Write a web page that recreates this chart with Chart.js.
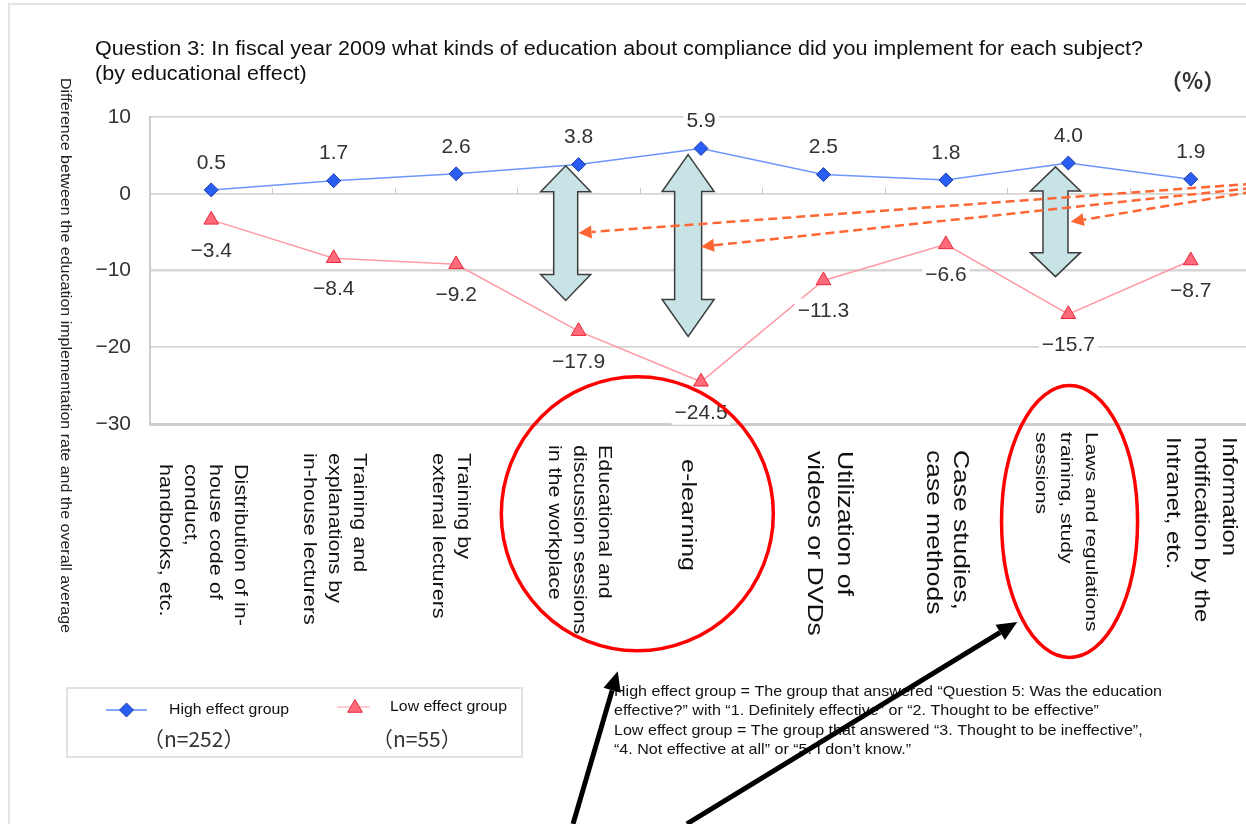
<!DOCTYPE html>
<html><head><meta charset="utf-8">
<script src="https://cdn.jsdelivr.net/npm/chart.js@4.4.1/dist/chart.umd.min.js"></script>
<style>
html,body{margin:0;padding:0;background:#fff;overflow:hidden;width:1246px;height:824px;}
#wrap{position:absolute;left:0;top:0;width:1262px;height:824px;}
</style></head><body>
<div id="wrap"><canvas id="c" width="1262" height="824"></canvas></div>
<script>
// ---------- data ----------
const CATEGORIES = [
  ["Distribution of in-","house code of","conduct,","handbooks, etc."],
  ["Training and","explanations by","in-house lecturers"],
  ["Training by","external lecturers"],
  ["Educational and","discussion sessions","in the workplace"],
  ["e-learning"],
  ["Utilization of","videos or DVDs"],
  ["Case studies,","case methods"],
  ["Laws and regulations","training, study","sessions"],
  ["Information","notification by the","Intranet, etc."]
];
const HIGH_EFFECT = [0.5, 1.7, 2.6, 3.8, 5.9, 2.5, 1.8, 4.0, 1.9];
const LOW_EFFECT  = [-3.4, -8.4, -9.2, -17.9, -24.5, -11.3, -6.6, -15.7, -8.7];
const Y_MIN = -30, Y_MAX = 10, Y_STEP = 10;
const SERIES_NAMES = ["High effect group", "Low effect group"];
const SAMPLE_SIZES = ["（n=252）", "（n=55）"];
const TITLE_LINES = ["Question 3: In fiscal year 2009 what kinds of education about compliance did you implement for each subject?", "(by educational effect)"];
const UNIT_LABEL = "（%）";
const Y_TITLE = "Difference between the education implementation rate and the overall average";
const NOTE_LINES = [
  "High effect group = The group that answered \u201cQuestion 5: Was the education",
  "effective?\u201d with \u201c1. Definitely effective\u201d or \u201c2. Thought to be effective\u201d",
  "Low effect group = The group that answered \u201c3. Thought to be ineffective\u201d,",
  "\u201c4. Not effective at all\u201d or \u201c5. I don\u2019t know.\u201d"
];

// ---------- annotations (in data units: x = category index, y = value) ----------
const GAP_ARROWS = [
  {x: 2.895, top: 3.65, bottom: -13.9},
  {x: 3.895, top: 5.1,  bottom: -18.6},
  {x: 6.895, top: 3.5,  bottom: -10.8}
];
const POINTER_ARROWS = [
  {from: {x: 8.5, y: 1.3},  to: {x: 3.0,  y: -5.1}},
  {from: {x: 8.5, y: 0.75}, to: {x: 4.0,  y: -6.9}},
  {from: {x: 8.5, y: 0.25}, to: {x: 7.02, y: -3.65}}
];
const HIGHLIGHT_ELLIPSES = [
  {x: 3.48, y: -41.7},
  {x: 7.01, y: -42.7}
];
const CALLOUT_ARROWS = [
  {from: {x: 2.955, y: -82.1}, to: {x: 3.32,  y: -62.2}},
  {from: {x: 3.885, y: -82.1}, to: {x: 6.583, y: -55.8}}
];

// ---------- styles ----------
const FONT = '"Liberation Sans", Arial, sans-serif';
const CJK = '"Noto Sans CJK JP", "Liberation Sans", sans-serif';
const GAP_ARROW_STYLE = [
  {headW: 50, headH: 26, shaftW: 24},
  {headW: 52, headH: 37, shaftW: 27},
  {headW: 50, headH: 24, shaftW: 25}
];
const ELLIPSE_STYLE = [{rx: 136, ry: 137}, {rx: 68, ry: 136}];
const LABEL_FONT_SIZE = [18, 18, 18, 18, 21, 22, 22, 16.5, 20];
const LABEL_STRETCH   = [1.2, 1.2, 1.2, 1.19, 1.2, 1.21, 1.2, 1.28, 1.19];
const LABEL_LINE_H   = [25, 25, 25, 25, 26, 30, 27, 25, 28];
const LABEL_TOP_GAP  = [40, 29, 29, 21, 35, 27, 26, 8, 13];
const LABEL_DX       = [-9, 0, -6, 0, -13, 6, 1, -3, 10];

function fmt(v){ return (v < 0 ? '\u2212' : '') + Math.abs(v).toFixed(1); }

// draw text stretched horizontally to a given width
function stretchScale(ctx, text, width){ return width / ctx.measureText(text).width; }
function drawStretched(ctx, text, x, y, sx){
  ctx.save(); ctx.translate(x, y); ctx.scale(sx, 1); ctx.fillText(text, 0, 0); ctx.restore();
}

function drawDiamond(ctx, x, y, r, fill, stroke){
  ctx.beginPath(); ctx.moveTo(x, y-r); ctx.lineTo(x+r, y); ctx.lineTo(x, y+r); ctx.lineTo(x-r, y); ctx.closePath();
  ctx.fillStyle = fill; ctx.fill(); ctx.strokeStyle = stroke; ctx.lineWidth = 1; ctx.stroke();
}
function drawTriangle(ctx, x, y, r, fill, stroke){
  ctx.beginPath(); ctx.moveTo(x, y - r); ctx.lineTo(x + r*0.866, y + r*0.5); ctx.lineTo(x - r*0.866, y + r*0.5); ctx.closePath();
  ctx.fillStyle = fill; ctx.fill(); ctx.strokeStyle = stroke; ctx.lineWidth = 1; ctx.stroke();
}
function arrowHead(ctx, x1, y1, x2, y2, len, half, color){
  const a = Math.atan2(y2-y1, x2-x1);
  const bx = x2 - Math.cos(a)*len, by = y2 - Math.sin(a)*len;
  ctx.beginPath();
  ctx.moveTo(x2, y2);
  ctx.lineTo(bx + Math.sin(a)*half, by - Math.cos(a)*half);
  ctx.lineTo(bx - Math.sin(a)*half, by + Math.cos(a)*half);
  ctx.closePath();
  ctx.fillStyle = color; ctx.fill();
  return {bx, by};
}

const deco = {
  id: 'deco',
  afterDatasetsDraw(chart){
    const ctx = chart.ctx;
    ctx.save();
    ctx.font = '21px ' + FONT; ctx.textAlign = 'center'; ctx.textBaseline = 'middle';
    chart.data.datasets.forEach((ds, di) => {
      chart.getDatasetMeta(di).data.forEach((pt, i) => {
        const t = fmt(ds.data[i]);
        const y = pt.y + (di === 0 ? -28 : 30);
        const w = ctx.measureText(t).width;
        ctx.fillStyle = '#fff'; ctx.fillRect(pt.x - w/2 - 3, y - 12, w + 6, 25);
        ctx.fillStyle = '#333'; ctx.fillText(t, pt.x, y + 1);
      });
    });
    ctx.restore();
  },
  afterDraw(chart){
    const ctx = chart.ctx, xs = chart.scales.x, ys = chart.scales.y, area = chart.chartArea;
    const X = v => xs.getPixelForValue(v), Y = v => ys.getPixelForValue(v);
    ctx.save();
    // outer frame
    ctx.strokeStyle = '#e4e4e4'; ctx.lineWidth = 2;
    ctx.beginPath(); ctx.moveTo(9, 830); ctx.lineTo(9, 4); ctx.lineTo(1262, 4); ctx.stroke();
    // title
    ctx.fillStyle = '#111'; ctx.textAlign = 'left'; ctx.textBaseline = 'alphabetic';
    ctx.font = '19.5px ' + FONT;
    const ts = stretchScale(ctx, TITLE_LINES[0], 1048);
    drawStretched(ctx, TITLE_LINES[0], 95, 55, ts);
    drawStretched(ctx, TITLE_LINES[1], 95, 80, ts);
    ctx.font = 'bold 22px ' + CJK; ctx.fillStyle = '#333';
    ctx.fillText(UNIT_LABEL, 1160, 89);
    // y axis title (rotated clockwise)
    ctx.save();
    ctx.translate(65, 78); ctx.rotate(Math.PI/2);
    ctx.font = '14px ' + FONT; ctx.fillStyle = '#222'; ctx.textBaseline = 'middle';
    drawStretched(ctx, Y_TITLE, 0, 0, stretchScale(ctx, Y_TITLE, 555));
    ctx.restore();
    // small ticks on zero line at category boundaries
    ctx.strokeStyle = '#c8c8c8'; ctx.lineWidth = 1;
    for (let i = 0; i < CATEGORIES.length - 1; i++){
      const x = Math.round(X(i + 0.5)) + 0.5;
      ctx.beginPath(); ctx.moveTo(x, Y(0) - 6); ctx.lineTo(x, Y(0)); ctx.stroke();
    }
    // category labels (rotated clockwise)
    ctx.fillStyle = '#111'; ctx.textBaseline = 'middle'; ctx.textAlign = 'left';
    CATEGORIES.forEach((lines, i) => {
      const n = lines.length, lh = LABEL_LINE_H[i];
      ctx.save();
      ctx.translate(X(i) + LABEL_DX[i], area.bottom + LABEL_TOP_GAP[i]);
      ctx.rotate(Math.PI/2);
      ctx.scale(LABEL_STRETCH[i], 1);
      ctx.font = LABEL_FONT_SIZE[i] + 'px ' + FONT;
      lines.forEach((s, j) => ctx.fillText(s, 0, (j - (n - 1)/2) * lh));
      ctx.restore();
    });
    // gap arrows (double-headed block arrows)
    GAP_ARROWS.forEach((a, k) => {
      const st = GAP_ARROW_STYLE[k];
      const cx = X(a.x), t = Y(a.top), b = Y(a.bottom);
      const hw = st.headW/2, sw = st.shaftW/2, hh = st.headH;
      ctx.beginPath();
      ctx.moveTo(cx, t); ctx.lineTo(cx + hw, t + hh); ctx.lineTo(cx + sw, t + hh);
      ctx.lineTo(cx + sw, b - hh); ctx.lineTo(cx + hw, b - hh); ctx.lineTo(cx, b);
      ctx.lineTo(cx - hw, b - hh); ctx.lineTo(cx - sw, b - hh); ctx.lineTo(cx - sw, t + hh);
      ctx.lineTo(cx - hw, t + hh); ctx.closePath();
      ctx.fillStyle = '#c7e3e5'; ctx.fill();
      ctx.strokeStyle = '#3d3d3d'; ctx.lineWidth = 1.5; ctx.lineJoin = 'miter'; ctx.stroke();
    });
    // dashed pointer arrows
    POINTER_ARROWS.forEach(p => {
      const x1 = X(p.from.x), y1 = Y(p.from.y), x2 = X(p.to.x), y2 = Y(p.to.y);
      const hb = arrowHead(ctx, x1, y1, x2, y2, 13, 6.5, '#ff6633');
      ctx.setLineDash([9, 5]); ctx.strokeStyle = '#ff6633'; ctx.lineWidth = 2.5;
      ctx.beginPath(); ctx.moveTo(x1, y1); ctx.lineTo(hb.bx, hb.by); ctx.stroke();
      ctx.setLineDash([]);
    });
    // red ellipses
    HIGHLIGHT_ELLIPSES.forEach((e, k) => {
      const st = ELLIPSE_STYLE[k];
      ctx.beginPath(); ctx.ellipse(X(e.x), Y(e.y), st.rx, st.ry, 0, 0, Math.PI*2);
      ctx.strokeStyle = '#ff0000'; ctx.lineWidth = 3.5; ctx.stroke();
    });
    // legend
    ctx.strokeStyle = '#d9d9d9'; ctx.lineWidth = 1.5;
    ctx.strokeRect(67, 688, 455, 69);
    ctx.strokeStyle = '#5f8cff'; ctx.lineWidth = 1.5;
    ctx.beginPath(); ctx.moveTo(106, 710); ctx.lineTo(147, 710); ctx.stroke();
    drawDiamond(ctx, 126.5, 710, 7, '#2a5ef2', '#1b3da8');
    ctx.strokeStyle = '#ff9aa5';
    ctx.beginPath(); ctx.moveTo(337, 707); ctx.lineTo(370, 707); ctx.stroke();
    drawTriangle(ctx, 355, 708, 8.5, '#ff6b7a', '#e8283c');
    ctx.font = '14.5px ' + FONT; ctx.fillStyle = '#111'; ctx.textBaseline = 'middle'; ctx.textAlign = 'left';
    drawStretched(ctx, SERIES_NAMES[0], 169, 710, stretchScale(ctx, SERIES_NAMES[0], 120));
    drawStretched(ctx, SERIES_NAMES[1], 390, 707, stretchScale(ctx, SERIES_NAMES[1], 117));
    ctx.font = '21px ' + CJK; ctx.fillStyle = '#333';
    ctx.fillText(SAMPLE_SIZES[0], 143, 739);
    ctx.fillText(SAMPLE_SIZES[1], 372, 739);
    // notes
    ctx.font = '15px ' + FONT; ctx.fillStyle = '#111'; ctx.textBaseline = 'alphabetic';
    const ns = stretchScale(ctx, NOTE_LINES[0], 548);
    NOTE_LINES.forEach((s, i) => drawStretched(ctx, s, 614, 696 + i*19.3, ns));
    // black callout arrows
    CALLOUT_ARROWS.forEach(p => {
      const x1 = X(p.from.x), y1 = Y(p.from.y), x2 = X(p.to.x), y2 = Y(p.to.y);
      const hb = arrowHead(ctx, x1, y1, x2, y2, 20, 9, '#000');
      ctx.strokeStyle = '#000'; ctx.lineWidth = 5; ctx.lineCap = 'butt';
      ctx.beginPath(); ctx.moveTo(x1, y1); ctx.lineTo(hb.bx, hb.by); ctx.stroke();
    });
    ctx.restore();
  }
};

new Chart(document.getElementById('c'), {
  type: 'line',
  data: {
    labels: CATEGORIES.map(l => l.join(' ')),
    datasets: [
      {label: SERIES_NAMES[0], data: HIGH_EFFECT, borderColor: '#6e96ff', borderWidth: 1.5,
       pointStyle: 'rectRot', pointRadius: 7, pointBackgroundColor: '#2a5ef2', pointBorderColor: '#1b3da8',
       pointBorderWidth: 1, tension: 0, fill: false},
      {label: SERIES_NAMES[1], data: LOW_EFFECT, borderColor: '#ff9aa5', borderWidth: 1.5,
       pointStyle: 'triangle', pointRadius: 8.5, pointBackgroundColor: '#ff6b7a', pointBorderColor: '#e8283c',
       pointBorderWidth: 1, tension: 0, fill: false}
    ]
  },
  options: {
    responsive: false, animation: false, devicePixelRatio: 1,
    layout: {padding: {left: 0, top: 117, right: 10, bottom: 400}},
    plugins: {legend: {display: false}, title: {display: false}, tooltip: {enabled: false}},
    scales: {
      x: {display: false, offset: true},
      y: {
        min: Y_MIN, max: Y_MAX,
        afterFit: s => { s.width = 150; },
        ticks: {stepSize: Y_STEP, padding: 19, color: '#333', font: {family: FONT, size: 21},
                callback: v => (v < 0 ? '\u2212' + Math.abs(v) : '' + v)},
        grid: {drawTicks: false,
               color: c => c.tick && c.tick.value === Y_MIN ? '#cdcdcd' : '#d6d6d6',
               lineWidth: c => c.tick && c.tick.value === Y_MIN ? 3 : (c.tick && c.tick.value === -10 ? 2.5 : 1.8)},
        border: {display: true, color: '#cdcdcd', width: 2}
      }
    }
  },
  plugins: [deco]
});
</script>
</body></html>
